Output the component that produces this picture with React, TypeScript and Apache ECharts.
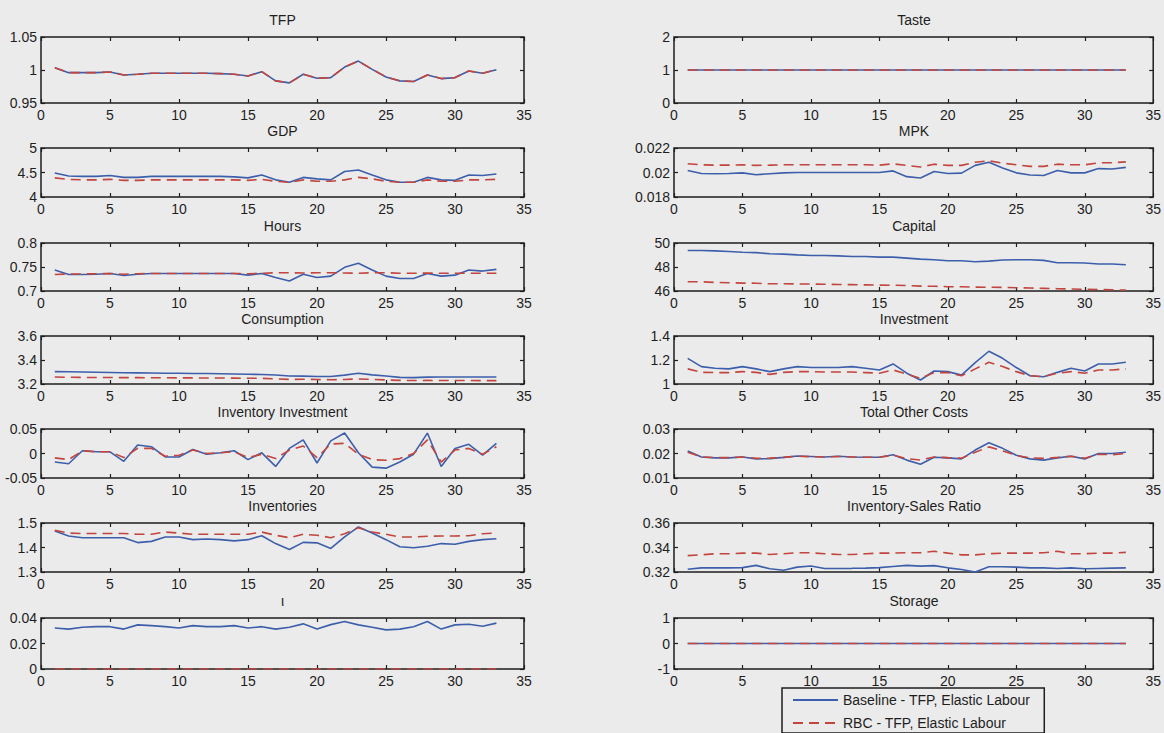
import React, { useEffect, useRef } from 'react';
import * as echarts from 'echarts';

const periods = [1, 2, 3, 4, 5, 6, 7, 8, 9, 10, 11, 12, 13, 14, 15, 16, 17, 18, 19, 20, 21, 22, 23, 24, 25, 26, 27, 28, 29, 30, 31, 32, 33];

const BASE_NAME = 'Baseline - TFP, Elastic Labour';
const RBC_NAME = 'RBC - TFP, Elastic Labour';

// Left column
const tfpBaseline = [1.0035, 0.996, 0.996, 0.996, 0.997, 0.9925, 0.9935, 0.995, 0.995, 0.995, 0.995, 0.995, 0.9945, 0.9935, 0.991, 0.9975, 0.9835, 0.9805, 0.9935, 0.9875, 0.9885, 1.0045, 1.0135, 1.001, 0.9895, 0.9835, 0.9825, 0.9925, 0.987, 0.9885, 0.9985, 0.995, 1.0005];
const tfpRbc = [1.0035, 0.996, 0.996, 0.996, 0.997, 0.9925, 0.9935, 0.995, 0.995, 0.995, 0.995, 0.995, 0.9945, 0.9935, 0.991, 0.9975, 0.9835, 0.9805, 0.9935, 0.9875, 0.9885, 1.0045, 1.0135, 1.001, 0.9895, 0.9835, 0.9825, 0.9925, 0.987, 0.9885, 0.9985, 0.995, 1.0005];

const gdpBaseline = [4.49, 4.43, 4.42, 4.42, 4.44, 4.40, 4.40, 4.42, 4.42, 4.42, 4.42, 4.42, 4.42, 4.41, 4.39, 4.45, 4.35, 4.30, 4.40, 4.37, 4.35, 4.52, 4.55, 4.45, 4.35, 4.30, 4.30, 4.40, 4.35, 4.34, 4.45, 4.44, 4.47];
const gdpRbc = [4.39, 4.36, 4.35, 4.35, 4.36, 4.34, 4.34, 4.35, 4.35, 4.35, 4.35, 4.35, 4.35, 4.35, 4.34, 4.36, 4.32, 4.30, 4.35, 4.32, 4.32, 4.35, 4.40, 4.37, 4.32, 4.30, 4.30, 4.35, 4.32, 4.32, 4.35, 4.35, 4.36];

const hoursBaseline = [0.7437, 0.7345, 0.7345, 0.735, 0.7366, 0.7324, 0.735, 0.7366, 0.7366, 0.7366, 0.7366, 0.7366, 0.7366, 0.7366, 0.733, 0.7366, 0.728, 0.721, 0.735, 0.728, 0.731, 0.7493, 0.7578, 0.7437, 0.731, 0.726, 0.726, 0.7366, 0.731, 0.733, 0.7437, 0.7415, 0.745];
const hoursRbc = [0.7345, 0.7355, 0.7355, 0.736, 0.7365, 0.735, 0.736, 0.7366, 0.7366, 0.7366, 0.7366, 0.7366, 0.7366, 0.7366, 0.736, 0.737, 0.738, 0.738, 0.7375, 0.738, 0.738, 0.7375, 0.737, 0.738, 0.738, 0.737, 0.737, 0.7375, 0.737, 0.737, 0.737, 0.737, 0.737];

const consBaseline = [3.303, 3.302, 3.300, 3.298, 3.296, 3.294, 3.293, 3.292, 3.290, 3.289, 3.288, 3.287, 3.285, 3.283, 3.281, 3.279, 3.275, 3.267, 3.266, 3.262, 3.262, 3.274, 3.289, 3.276, 3.267, 3.255, 3.253, 3.257, 3.258, 3.258, 3.258, 3.258, 3.258];
const consRbc = [3.258, 3.256, 3.255, 3.254, 3.254, 3.253, 3.253, 3.252, 3.252, 3.251, 3.251, 3.250, 3.250, 3.249, 3.248, 3.247, 3.243, 3.238, 3.240, 3.237, 3.236, 3.238, 3.242, 3.238, 3.234, 3.230, 3.229, 3.230, 3.229, 3.229, 3.229, 3.228, 3.228];

const invInvBaseline = [-0.0174, -0.021, 0.0056, 0.0035, 0.0035, -0.016, 0.0174, 0.0139, -0.007, -0.007, 0.0083, -0.0014, 0.0014, 0.0056, -0.0125, 0.0014, -0.0264, 0.0104, 0.0278, -0.0194, 0.0257, 0.0417, 0.0014, -0.0278, -0.0299, -0.0174, -0.0014, 0.0417, -0.0264, 0.0104, 0.0188, -0.0035, 0.0208];
const invInvRbc = [-0.009, -0.0125, 0.0056, 0.0035, 0.0035, -0.0083, 0.0104, 0.0104, -0.0056, -0.0035, 0.007, 0.0, 0.0014, 0.0035, -0.0083, -0.0014, -0.0104, 0.007, 0.0153, -0.0083, 0.0194, 0.0208, -0.0014, -0.0125, -0.0139, -0.0104, 0.0, 0.0278, -0.0174, 0.007, 0.0104, -0.0014, 0.0139];

const inventoriesBaseline = [1.467, 1.447, 1.440, 1.440, 1.440, 1.440, 1.420, 1.425, 1.443, 1.443, 1.432, 1.435, 1.432, 1.427, 1.432, 1.448, 1.416, 1.392, 1.421, 1.419, 1.396, 1.443, 1.484, 1.459, 1.432, 1.403, 1.399, 1.405, 1.416, 1.413, 1.425, 1.432, 1.436];
const inventoriesRbc = [1.470, 1.459, 1.457, 1.457, 1.457, 1.457, 1.454, 1.454, 1.463, 1.459, 1.454, 1.454, 1.454, 1.454, 1.454, 1.463, 1.450, 1.440, 1.454, 1.450, 1.440, 1.456, 1.481, 1.463, 1.454, 1.443, 1.443, 1.446, 1.447, 1.447, 1.448, 1.456, 1.459];

const iotaBaseline = [0.0321, 0.0313, 0.0327, 0.0332, 0.0332, 0.0313, 0.0346, 0.0340, 0.0332, 0.0321, 0.0340, 0.0332, 0.0332, 0.0340, 0.0321, 0.0332, 0.0313, 0.0327, 0.0354, 0.0313, 0.0348, 0.0373, 0.0346, 0.0327, 0.0307, 0.0313, 0.0332, 0.0373, 0.0313, 0.0346, 0.0351, 0.0335, 0.0360];
const iotaRbc = [0, 0, 0, 0, 0, 0, 0, 0, 0, 0, 0, 0, 0, 0, 0, 0, 0, 0, 0, 0, 0, 0, 0, 0, 0, 0, 0, 0, 0, 0, 0, 0, 0];

// Right column
const tasteBaseline = [1, 1, 1, 1, 1, 1, 1, 1, 1, 1, 1, 1, 1, 1, 1, 1, 1, 1, 1, 1, 1, 1, 1, 1, 1, 1, 1, 1, 1, 1, 1, 1, 1];
const tasteRbc = [1, 1, 1, 1, 1, 1, 1, 1, 1, 1, 1, 1, 1, 1, 1, 1, 1, 1, 1, 1, 1, 1, 1, 1, 1, 1, 1, 1, 1, 1, 1, 1, 1];

const mpkBaseline = [0.02016, 0.01992, 0.0199, 0.01992, 0.01997, 0.01982, 0.0199, 0.01997, 0.02, 0.02, 0.02, 0.02, 0.02, 0.02, 0.02, 0.02013, 0.01966, 0.01955, 0.02008, 0.01992, 0.01995, 0.02058, 0.02084, 0.02037, 0.01997, 0.01979, 0.01976, 0.02016, 0.01997, 0.01997, 0.02032, 0.02029, 0.02042];
const mpkRbc = [0.02071, 0.02063, 0.0206, 0.0206, 0.02063, 0.02058, 0.0206, 0.02063, 0.02063, 0.02063, 0.02063, 0.02063, 0.02063, 0.02063, 0.0206, 0.02071, 0.02058, 0.02045, 0.02068, 0.02058, 0.02058, 0.02084, 0.02095, 0.02076, 0.02063, 0.0205, 0.0205, 0.02068, 0.02063, 0.02063, 0.02079, 0.02079, 0.02087];

const capitalBaseline = [49.37, 49.37, 49.34, 49.29, 49.23, 49.20, 49.10, 49.07, 49.01, 48.96, 48.96, 48.93, 48.88, 48.88, 48.82, 48.82, 48.74, 48.66, 48.60, 48.52, 48.52, 48.44, 48.49, 48.58, 48.60, 48.60, 48.55, 48.36, 48.36, 48.33, 48.25, 48.25, 48.19];
const capitalRbc = [46.77, 46.77, 46.71, 46.69, 46.66, 46.65, 46.60, 46.60, 46.59, 46.58, 46.56, 46.54, 46.53, 46.51, 46.49, 46.48, 46.45, 46.41, 46.39, 46.36, 46.35, 46.32, 46.31, 46.30, 46.27, 46.25, 46.22, 46.19, 46.17, 46.14, 46.12, 46.10, 46.08];

const investmentBaseline = [1.214, 1.145, 1.131, 1.126, 1.145, 1.126, 1.103, 1.126, 1.145, 1.137, 1.137, 1.137, 1.145, 1.131, 1.117, 1.167, 1.09, 1.033, 1.108, 1.103, 1.074, 1.178, 1.273, 1.214, 1.137, 1.069, 1.061, 1.097, 1.131, 1.108, 1.167, 1.167, 1.181];
const investmentRbc = [1.126, 1.097, 1.095, 1.095, 1.103, 1.097, 1.08, 1.097, 1.103, 1.103, 1.1, 1.1, 1.1, 1.095, 1.09, 1.117, 1.083, 1.047, 1.095, 1.095, 1.069, 1.126, 1.181, 1.145, 1.103, 1.069, 1.061, 1.09, 1.103, 1.09, 1.117, 1.117, 1.126];

const otherCostsBaseline = [0.0210, 0.0186, 0.0182, 0.0182, 0.0186, 0.0178, 0.0179, 0.0184, 0.0190, 0.0188, 0.0186, 0.0189, 0.0186, 0.0185, 0.0185, 0.0195, 0.0173, 0.0156, 0.0185, 0.0182, 0.0178, 0.0214, 0.0244, 0.0221, 0.0193, 0.0178, 0.0173, 0.0182, 0.0189, 0.0178, 0.0200, 0.0200, 0.0205];
const otherCostsRbc = [0.0205, 0.0186, 0.0183, 0.0183, 0.0186, 0.0180, 0.0181, 0.0184, 0.0189, 0.0187, 0.0186, 0.0188, 0.0186, 0.0185, 0.0185, 0.0193, 0.0179, 0.0173, 0.0186, 0.0183, 0.0181, 0.0205, 0.0227, 0.0211, 0.0192, 0.0182, 0.0180, 0.0184, 0.0189, 0.0181, 0.0197, 0.0195, 0.0200];

const isrBaseline = [0.3222, 0.3234, 0.3234, 0.3234, 0.3236, 0.3254, 0.3226, 0.3214, 0.3240, 0.3249, 0.3229, 0.3229, 0.3230, 0.3232, 0.3236, 0.3245, 0.3254, 0.3248, 0.3252, 0.3234, 0.3220, 0.3200, 0.3243, 0.3243, 0.3240, 0.3234, 0.3234, 0.3229, 0.3234, 0.3226, 0.3229, 0.3232, 0.3234];
const isrRbc = [0.3334, 0.3340, 0.3349, 0.3349, 0.3354, 0.3354, 0.3343, 0.3349, 0.3357, 0.3357, 0.3349, 0.3343, 0.3343, 0.3349, 0.3354, 0.3354, 0.3357, 0.3357, 0.3369, 0.3354, 0.3340, 0.3340, 0.3349, 0.3354, 0.3354, 0.3354, 0.3357, 0.3369, 0.3349, 0.3349, 0.3354, 0.3354, 0.3360];

const storageBaseline = [0, 0, 0, 0, 0, 0, 0, 0, 0, 0, 0, 0, 0, 0, 0, 0, 0, 0, 0, 0, 0, 0, 0, 0, 0, 0, 0, 0, 0, 0, 0, 0, 0];
const storageRbc = [0, 0, 0, 0, 0, 0, 0, 0, 0, 0, 0, 0, 0, 0, 0, 0, 0, 0, 0, 0, 0, 0, 0, 0, 0, 0, 0, 0, 0, 0, 0, 0, 0];

const xTicks = { min: 0, max: 35, interval: 5 };

const leftPanels = [
  { title: 'TFP', base: tfpBaseline, rbc: tfpRbc, min: 0.95, max: 1.05, interval: 0.05 },
  { title: 'GDP', base: gdpBaseline, rbc: gdpRbc, min: 4, max: 5, interval: 0.5 },
  { title: 'Hours', base: hoursBaseline, rbc: hoursRbc, min: 0.7, max: 0.8, interval: 0.05 },
  { title: 'Consumption', base: consBaseline, rbc: consRbc, min: 3.2, max: 3.6, interval: 0.2 },
  { title: 'Inventory Investment', base: invInvBaseline, rbc: invInvRbc, min: -0.05, max: 0.05, interval: 0.05 },
  { title: 'Inventories', base: inventoriesBaseline, rbc: inventoriesRbc, min: 1.3, max: 1.5, interval: 0.1 },
  { title: 'ι', base: iotaBaseline, rbc: iotaRbc, min: 0, max: 0.04, interval: 0.02 },
];
const rightPanels = [
  { title: 'Taste', base: tasteBaseline, rbc: tasteRbc, min: 0, max: 2, interval: 1 },
  { title: 'MPK', base: mpkBaseline, rbc: mpkRbc, min: 0.018, max: 0.022, interval: 0.002 },
  { title: 'Capital', base: capitalBaseline, rbc: capitalRbc, min: 46, max: 50, interval: 2 },
  { title: 'Investment', base: investmentBaseline, rbc: investmentRbc, min: 1, max: 1.4, interval: 0.2 },
  { title: 'Total Other Costs', base: otherCostsBaseline, rbc: otherCostsRbc, min: 0.01, max: 0.03, interval: 0.01 },
  { title: 'Inventory-Sales Ratio', base: isrBaseline, rbc: isrRbc, min: 0.32, max: 0.36, interval: 0.02 },
  { title: 'Storage', base: storageBaseline, rbc: storageRbc, min: -1, max: 1, interval: 1 },
];

const ROW_TOPS = [37, 148, 243, 336, 429, 523, 618];
const ROW_BOTTOMS = [103, 197, 291, 384, 478, 572, 669];
const COLS = [
  { left: 41, width: 483 },
  { left: 674, width: 480 },
];

const BG = '#ebebeb';
const BLUE = '#3d5fab';
const RED = '#c2453e';
const INK = '#1e1e1e';
const FONT = '"Liberation Sans", Arial, Helvetica, sans-serif';

const fmt = (v: number) => String(parseFloat(v.toFixed(6)));

function buildOption() {
  const grids: any[] = [];
  const xAxes: any[] = [];
  const yAxes: any[] = [];
  const series: any[] = [];
  const titles: any[] = [];

  const columns = [leftPanels, rightPanels];
  let idx = 0;
  columns.forEach((panels, c) => {
    panels.forEach((p, r) => {
      const col = COLS[c];
      const top = ROW_TOPS[r];
      const height = ROW_BOTTOMS[r] - top;
      grids.push({
        left: col.left,
        top,
        width: col.width,
        height,
        show: true,
        borderColor: INK,
        borderWidth: 1.5,
        backgroundColor: 'transparent',
      });
      titles.push({
        text: p.title,
        left: col.left + col.width / 2,
        top: top - 25,
        textAlign: 'center',
        padding: 0,
        textStyle: { fontFamily: FONT, fontSize: 14, fontWeight: 'normal', color: INK, lineHeight: 16 },
      });
      const tickStyle = { show: true, inside: true, length: 4, lineStyle: { color: INK, width: 1.2 } };
      xAxes.push({
        type: 'value',
        gridIndex: idx,
        position: 'bottom',
        ...xTicks,
        axisLine: { show: false, onZero: false },
        axisTick: tickStyle,
        splitLine: { show: false },
        axisLabel: { fontFamily: FONT, fontSize: 14, color: INK, margin: 5, formatter: fmt },
      });
      xAxes.push({
        type: 'value',
        gridIndex: idx,
        position: 'top',
        ...xTicks,
        axisLine: { show: false, onZero: false },
        axisTick: tickStyle,
        splitLine: { show: false },
        axisLabel: { show: false },
      });
      yAxes.push({
        type: 'value',
        gridIndex: idx,
        position: 'left',
        min: p.min,
        max: p.max,
        interval: p.interval,
        axisLine: { show: false, onZero: false },
        axisTick: tickStyle,
        splitLine: { show: false },
        axisLabel: { fontFamily: FONT, fontSize: 14, color: INK, margin: 4, formatter: fmt },
      });
      yAxes.push({
        type: 'value',
        gridIndex: idx,
        position: 'right',
        min: p.min,
        max: p.max,
        interval: p.interval,
        axisLine: { show: false, onZero: false },
        axisTick: tickStyle,
        splitLine: { show: false },
        axisLabel: { show: false },
      });
      series.push({
        type: 'line',
        name: BASE_NAME,
        xAxisIndex: idx * 2,
        yAxisIndex: idx * 2,
        data: periods.map((x, k) => [x, p.base[k]]),
        symbol: 'none',
        showSymbol: false,
        lineStyle: { color: BLUE, width: 1.6, type: 'solid' },
        itemStyle: { color: BLUE },
      });
      series.push({
        type: 'line',
        name: RBC_NAME,
        xAxisIndex: idx * 2,
        yAxisIndex: idx * 2,
        data: periods.map((x, k) => [x, p.rbc[k]]),
        symbol: 'none',
        showSymbol: false,
        lineStyle: { color: RED, width: 1.6, type: [10, 6] },
        itemStyle: { color: RED },
      });
      idx++;
    });
  });

  return {
    animation: false,
    backgroundColor: BG,
    textStyle: { fontFamily: FONT },
    title: titles,
    grid: grids,
    xAxis: xAxes,
    yAxis: yAxes,
    series,
    legend: {
      data: [BASE_NAME, RBC_NAME],
      orient: 'vertical',
      left: 782,
      top: 688,
      height: 80,
      itemWidth: 45,
      itemHeight: 14,
      itemGap: 9,
      padding: [5, 14, 3, 10],
      borderColor: INK,
      borderWidth: 1.5,
      selectedMode: false,
      itemStyle: { color: 'transparent', borderWidth: 0, opacity: 0 },
      textStyle: { fontFamily: FONT, fontSize: 14, color: INK },
    },
  };
}

export default function App() {
  const ref = useRef<HTMLDivElement>(null);
  useEffect(() => {
    document.body.style.margin = '0';
    if (!ref.current) return;
    const chart = echarts.init(ref.current, null, { renderer: 'svg' });
    chart.setOption(buildOption() as any);
    return () => chart.dispose();
  }, []);
  return <div ref={ref} style={{ width: 1164, height: 733, background: BG }} />;
}
